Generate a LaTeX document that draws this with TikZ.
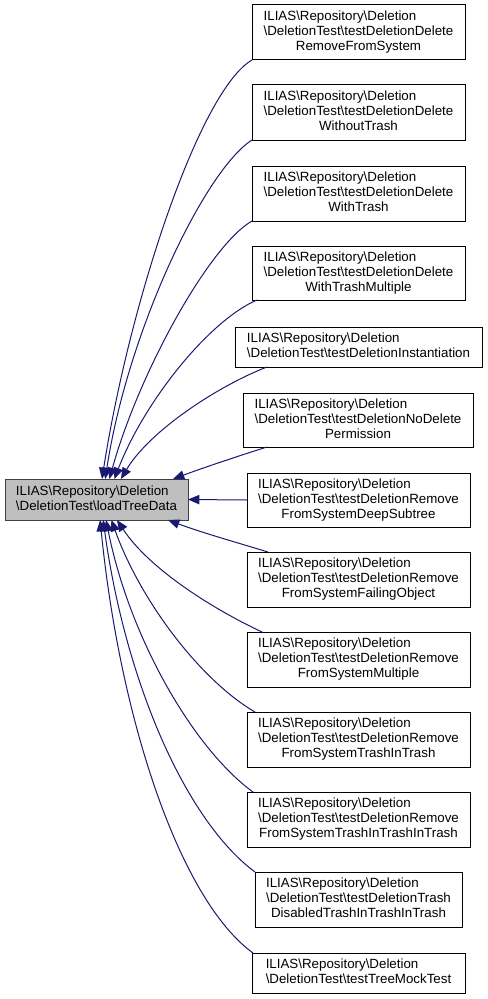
\documentclass[tikz,border=0pt]{standalone}
\usepackage{fontspec}
\setmainfont{Liberation Sans}
\usetikzlibrary{arrows.meta,calc}
\definecolor{edgeblue}{HTML}{191970}
\definecolor{leftfill}{HTML}{BFBFBF}
\definecolor{leftdraw}{HTML}{404040}
\newcommand{\BSx}{\textbackslash}
\newcommand{\cl}[1]{\multicolumn{1}{@{}c@{}}{#1}}
\newcommand{\twoL}[2]{\begin{tabular}{@{}l@{}}#1\\\cl{#2}\end{tabular}}
\newcommand{\threeL}[3]{\begin{tabular}{@{}l@{}}#1\\#2\\\cl{#3}\end{tabular}}
\begin{document}
\begin{tikzpicture}[x=0.75pt,y=-0.75pt,
  box/.style={draw=black, line width=0.75pt, inner sep=0pt, outer sep=0pt, fill=white,
    font=\fontsize{10}{11.25}\selectfont},
  sz/.style 2 args={minimum width=#1*0.75pt, minimum height=#2*0.75pt},
  focus/.style={box, draw=leftdraw, fill=leftfill},
  edge/.style={draw=edgeblue, line width=0.75pt, -{Triangle[length=8.5pt,width=7pt]}}]
\useasboundingbox (0,0) rectangle (487,999);

\node[focus, sz={183}{41}] (L) at (96.5,499.5) {\twoL{ILIAS\BSx Repository\BSx Deletion}{\BSx DeletionTest\BSx loadTreeData}};

\node[box, sz={213}{55}] (r1) at (358.5,32.5) {\threeL{ILIAS\BSx Repository\BSx Deletion}{\BSx DeletionTest\BSx testDeletionDelete}{RemoveFromSystem}};
\node[box, sz={213}{55}] (r2) at (358.5,112.5) {\threeL{ILIAS\BSx Repository\BSx Deletion}{\BSx DeletionTest\BSx testDeletionDelete}{WithoutTrash}};
\node[box, sz={213}{55}] (r3) at (358.5,193.5) {\threeL{ILIAS\BSx Repository\BSx Deletion}{\BSx DeletionTest\BSx testDeletionDelete}{WithTrash}};
\node[box, sz={213}{54}] (r4) at (358.5,273) {\threeL{ILIAS\BSx Repository\BSx Deletion}{\BSx DeletionTest\BSx testDeletionDelete}{WithTrashMultiple}};
\node[box, sz={247}{40}] (r5) at (358.5,347) {\twoL{ILIAS\BSx Repository\BSx Deletion}{\BSx DeletionTest\BSx testDeletionInstantiation}};
\node[box, sz={230}{54}] (r6) at (358,420) {\threeL{ILIAS\BSx Repository\BSx Deletion}{\BSx DeletionTest\BSx testDeletionNoDelete}{Permission}};
\node[box, sz={223}{54}] (r7) at (358.5,500) {\threeL{ILIAS\BSx Repository\BSx Deletion}{\BSx DeletionTest\BSx testDeletionRemove}{FromSystemDeepSubtree}};
\node[box, sz={223}{55}] (r8) at (358.5,579.5) {\threeL{ILIAS\BSx Repository\BSx Deletion}{\BSx DeletionTest\BSx testDeletionRemove}{FromSystemFailingObject}};
\node[box, sz={223}{55}] (r9) at (358.5,659.5) {\threeL{ILIAS\BSx Repository\BSx Deletion}{\BSx DeletionTest\BSx testDeletionRemove}{FromSystemMultiple}};
\node[box, sz={223}{55}] (r10) at (358.5,739.5) {\threeL{ILIAS\BSx Repository\BSx Deletion}{\BSx DeletionTest\BSx testDeletionRemove}{FromSystemTrashInTrash}};
\node[box, sz={223}{55}] (r11) at (358.5,819.5) {\threeL{ILIAS\BSx Repository\BSx Deletion}{\BSx DeletionTest\BSx testDeletionRemove}{FromSystemTrashInTrashInTrash}};
\node[box, sz={207}{55}] (r12) at (358.5,899.5) {\threeL{ILIAS\BSx Repository\BSx Deletion}{\BSx DeletionTest\BSx testDeletionTrash}{DisabledTrashInTrashInTrash}};
\node[box, sz={213}{40}] (r13) at (358.5,973) {\twoL{ILIAS\BSx Repository\BSx Deletion}{\BSx DeletionTest\BSx testTreeMockTest}};

\draw[edge] (r1.south west) .. controls (200,90) and (130,300) .. (L.75);
\draw[edge] (r2.south west) .. controls (205,170) and (128,330) .. (L.67.5);
\draw[edge] (r3.south west) .. controls (210,245) and (140,370) .. (L.58.6);
\draw[edge] ($(r4.south west)+(5,0)$) .. controls (210,320) and (145,400) .. (L.49.5);
\draw[edge] ($(r5.south west)+(32,0)$) .. controls (220,385) and (150,430) .. (L.40);
\draw[edge] ($(r6.south west)+(24,0)$) .. controls (232,458) and (200,469) .. (L.15.2);
\draw[edge] (r7.west) -- (L.east);
\draw[edge] ($(r8.north west)+(21,0)$) .. controls (235,542) and (200,532) .. (L.-16);
\draw[edge] ($(r9.north west)+(15,0)$) .. controls (215,610) and (150,570) .. (L.-45);
\draw[edge] ($(r10.north west)+(8,0)$) .. controls (200,680) and (140,600) .. (L.-54.7);
\draw[edge] ($(r11.north west)+(6,0)$) .. controls (195,750) and (130,640) .. (L.-65.1);
\draw[edge] (r12.north west) .. controls (185,820) and (125,680) .. (L.-72.4);
\draw[edge] ($(r13.north west)+(1,0)$) .. controls (180,900) and (120,720) .. (L.-80.3);
\end{tikzpicture}
\end{document}
